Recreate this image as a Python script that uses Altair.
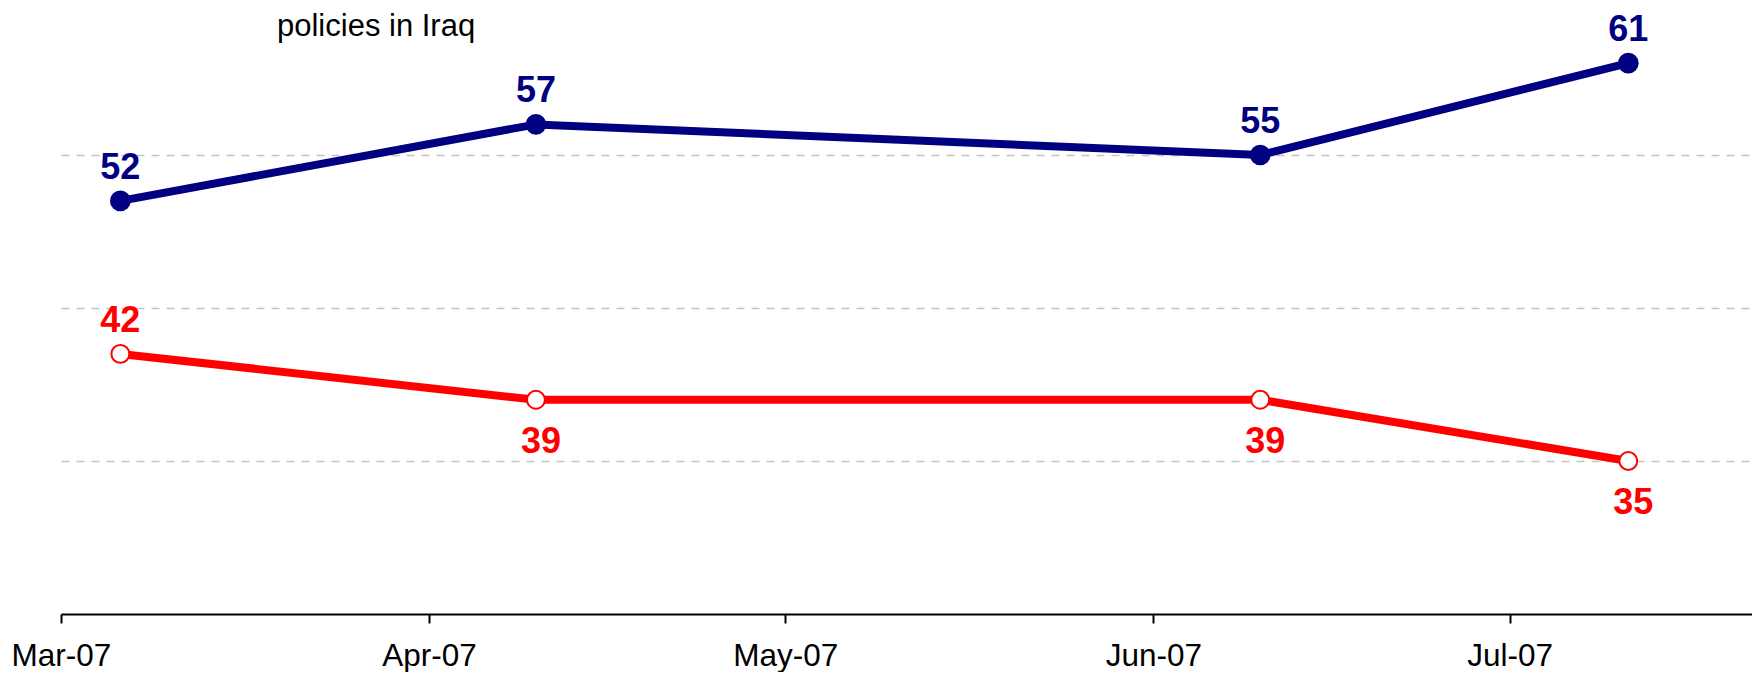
import altair as alt
import pandas as pd

# ---- data ----
dates = ["2007-03-06T00:00", "2007-04-10T00:00", "2007-06-10T00:00", "2007-07-11T00:00"]
blue_values = [52, 57, 55, 61]
red_values = [42, 39, 39, 35]
blue_label_pos = ["above", "above", "above", "above"]
red_label_pos = ["above", "below", "below", "below"]
series_names = ["Disapprove", "Approve"]
series_colors = ["#000080", "#FF0000"]
tick_months = [3, 4, 5, 6, 7]
legend_text = "policies in Iraq"

rows = []
for d, v, p in zip(dates, blue_values, blue_label_pos):
    rows.append({"date": d, "value": v, "series": series_names[0], "pos": p})
for d, v, p in zip(dates, red_values, red_label_pos):
    rows.append({"date": d, "value": v, "series": series_names[1], "pos": p})
df = pd.DataFrame(rows)

FONT = "Liberation Sans"

x_enc = alt.X(
    "date:T",
    scale=alt.Scale(
        domain=[alt.DateTime(year=2007, month=3, date=1),
                alt.DateTime(year=2007, month=7, date=21, hours=10)],
        nice=False,
    ),
    axis=alt.Axis(
        values=[alt.DateTime(year=2007, month=m, date=1) for m in tick_months],
        format="%b-%y",
        title=None,
        grid=False,
        domainColor="black",
        domainWidth=2,
        tickColor="black",
        tickWidth=2,
        tickSize=9,
        labelFont=FONT,
        labelFontSize=31.5,
        labelColor="black",
        labelPadding=17,
        labelFlush=False,
    ),
)
y_enc = alt.Y(
    "value:Q",
    scale=alt.Scale(domain=[25, 65], nice=False, zero=False),
    axis=alt.Axis(
        values=[35, 45, 55, 65],
        grid=True,
        gridDash=[8, 7],
        gridColor="#c4c4c4",
        gridWidth=1.5,
        domain=False,
        ticks=False,
        labels=False,
        title=None,
    ),
)
color_enc = alt.Color(
    "series:N",
    scale=alt.Scale(domain=series_names, range=series_colors),
    legend=None,
)

base = alt.Chart(df)

cover = alt.Chart(pd.DataFrame({"k": [0]})).mark_rect(color="white").encode(
    x=alt.value(100), x2=alt.value(1664), y=alt.value(-8), y2=alt.value(30)
)

lines = base.mark_line(strokeWidth=8).encode(x=x_enc, y=y_enc, color=color_enc)

blue_pts = base.transform_filter(alt.datum.series == series_names[0]).mark_point(
    filled=True, size=430, opacity=1, color=series_colors[0]
).encode(x="date:T", y="value:Q")

red_pts = base.transform_filter(alt.datum.series == series_names[1]).mark_point(
    filled=True, size=320, opacity=1, fill="white", stroke=series_colors[1], strokeWidth=2
).encode(x="date:T", y="value:Q")

labels_above = base.transform_filter(alt.datum.pos == "above").mark_text(
    font=FONT, fontSize=36, fontWeight="bold", baseline="alphabetic", dy=-22, dx=0
).encode(x="date:T", y="value:Q", text="value:Q", color=color_enc)

labels_below = base.transform_filter(alt.datum.pos == "below").mark_text(
    font=FONT, fontSize=36, fontWeight="bold", baseline="alphabetic", dy=53, dx=5
).encode(x="date:T", y="value:Q", text="value:Q", color=color_enc)

legend_label = alt.Chart(pd.DataFrame({"t": [legend_text]})).mark_text(
    font=FONT, fontSize=31, color="black", align="left", baseline="alphabetic"
).encode(x=alt.value(216), y=alt.value(34), text="t:N")

chart = (
    alt.layer(cover, lines, blue_pts, red_pts, labels_above, labels_below, legend_label)
    .properties(
        width=1691,
        height=612,
        autosize=alt.AutoSizeParams(type="none"),
        padding={"left": 53, "top": -6, "right": 0, "bottom": 58},
        background="white",
    )
    .configure_view(stroke=None)
)

chart.save("out.html", embed_options={"renderer": "svg", "actions": False})
